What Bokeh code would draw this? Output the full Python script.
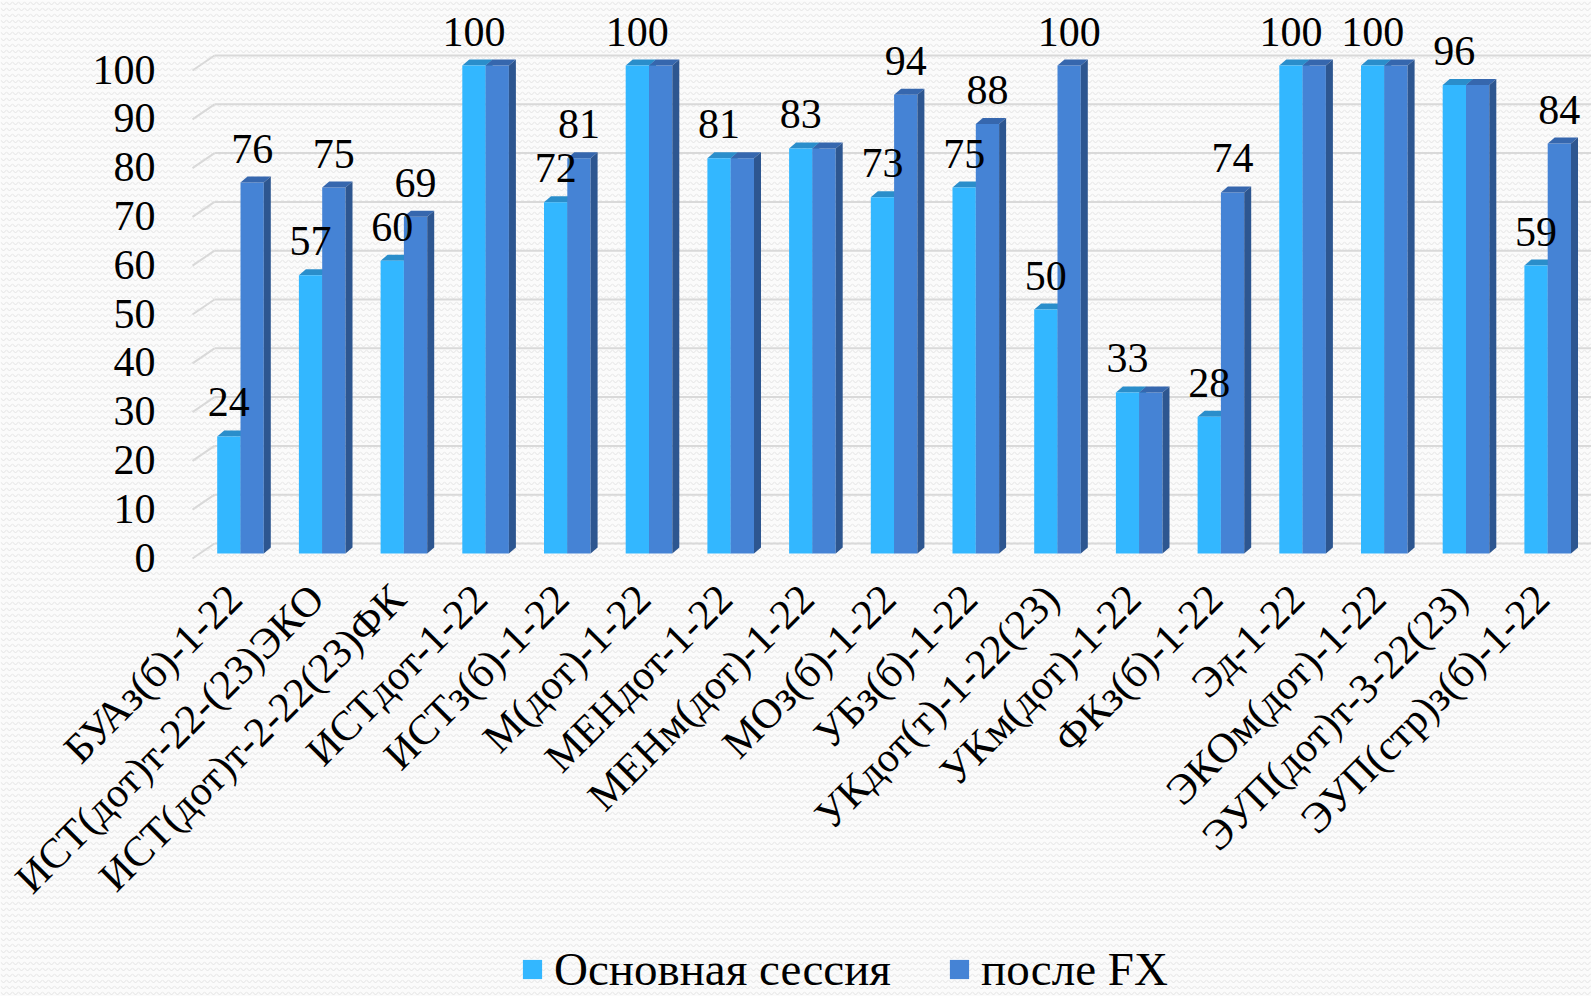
import numpy as np
from bokeh.plotting import figure
from bokeh.models import Range1d, Legend, LegendItem, BoxAnnotation
from bokeh.core.properties import value
from bokeh.embed import file_html
from bokeh.resources import INLINE

# ---------------- data ----------------
categories = [
    "БУАз(б)-1-22", "ИСТ(дот)т-22-(23)ЭКО", "ИСТ(дот)т-2-22(23)ФК", "ИСТдот-1-22",
    "ИСТз(б)-1-22", "М(дот)-1-22", "МЕНдот-1-22", "МЕНм(дот)-1-22", "МОз(б)-1-22",
    "УБз(б)-1-22", "УКдот(т)-1-22(23)", "УКм(дот)-1-22", "ФКз(б)-1-22", "Эд-1-22",
    "ЭКОм(дот)-1-22", "ЭУП(дот)т-3-22(23)", "ЭУП(стр)з(б)-1-22",
]
main_session = [24, 57, 60, 100, 72, 100, 81, 83, 73, 75, 50, 33, 28, 100, 100, 96, 59]
after_fx = [76, 75, 69, 100, 81, 100, 81, 83, 94, 88, 100, 33, 74, 100, 100, 96, 84]
series_names = ["Основная сессия", "после FX"]
y_ticks = [0, 10, 20, 30, 40, 50, 60, 70, 80, 90, 100]

# ---------------- layout (pixels) ----------------
W, H = 1591, 996
X0 = 240.0      # canvas px of first group centre
GROUP = 81.7    # px per category
Y0 = 553.0      # canvas px of value 0 (front plane)
UNIT = 4.88     # px per value unit
BAR_PX, DX_PX, DY_PX = 23.3, 7.0, 6.0
GRID_BACK_DY = 10.0
STUB_X0, STUB_X1 = -48.0, -26.0   # relative to first group centre
STUB_Y0 = 5.0

x_start, x_end = (0 - X0) / GROUP, (W - X0) / GROUP
y_end, y_start = Y0 / UNIT, (Y0 - H) / UNIT
bw, dx, dy = BAR_PX / GROUP, DX_PX / GROUP, DY_PX / UNIT

FONT = value("Liberation Serif")
LIGHT, LIGHT_TOP, LIGHT_SIDE = "#33B7FF", "#2A8ECB", "#2A8ECB"
DARK, DARK_TOP, DARK_SIDE = "#4583D5", "#3667AE", "#2D5690"

p = figure(width=W, height=H, x_range=Range1d(x_start, x_end), y_range=Range1d(y_start, y_end),
           x_axis_location=None, y_axis_location=None, toolbar_location=None,
           output_backend="svg", min_border=0, outline_line_color=None,
           background_fill_color="#FBFBFB", border_fill_color="white")
p.grid.visible = False

# faint textured background
p.add_layout(BoxAnnotation(left=x_start, right=x_end, bottom=y_start, top=y_end, level="underlay",
                           fill_color="#FBFBFB", fill_alpha=1, line_alpha=0,
                           hatch_pattern="horizontal_wave", hatch_color="#E2E2E2",
                           hatch_scale=6, hatch_weight=1))

# gridlines (back wall) with floor stubs
tk = np.array(y_ticks, dtype=float)
gx0 = np.full_like(tk, STUB_X1 / GROUP)
gx1 = np.full_like(tk, x_end)
gy = tk + GRID_BACK_DY / UNIT
p.segment(x0=gx0, y0=gy, x1=gx1, y1=gy, line_color="#D9D9D9", line_width=2)
p.segment(x0=np.full_like(tk, STUB_X0 / GROUP), y0=tk - STUB_Y0 / UNIT,
          x1=gx0, y1=gy, line_color="#D9D9D9", line_width=2)

# y tick labels
p.text(x=np.zeros_like(tk), y=tk, text=[str(t) for t in y_ticks], x_offset=-85, y_offset=4,
       text_align="right", text_baseline="middle", text_font=FONT, text_font_size="42px",
       text_color="black")

idx = np.arange(len(categories), dtype=float)
m = np.array(main_session, dtype=float)
a = np.array(after_fx, dtype=float)

def faces(left, vals):
    top_xs = [[l, l + bw, l + bw + dx, l + dx] for l in left]
    top_ys = [[v, v, v + dy, v + dy] for v in vals]
    side_xs = [[l + bw, l + bw, l + bw + dx, l + bw + dx] for l in left]
    side_ys = [[0, v, v + dy, dy] for v in vals]
    return top_xs, top_ys, side_xs, side_ys

lt_x, lt_y, ls_x, ls_y = faces(idx - bw, m)
dt_x, dt_y, ds_x, ds_y = faces(idx, a)

p.patches(lt_x, lt_y, fill_color=LIGHT_TOP, line_color=None)
p.patches(ls_x, ls_y, fill_color=LIGHT_SIDE, line_color=None)
r_light = p.quad(left=idx - bw, right=idx, bottom=0, top=m, fill_color=LIGHT, line_color=None)
r_dark = p.quad(left=idx, right=idx + bw, bottom=0, top=a, fill_color=DARK, line_color=None)
p.patches(dt_x, dt_y, fill_color=DARK_TOP, line_color=None)
p.patches(ds_x, ds_y, fill_color=DARK_SIDE, line_color=None)

# data labels
p.text(x=idx - bw / 2, y=m, text=[str(v) for v in main_session], y_offset=-34,
       text_align="center", text_baseline="middle", text_font=FONT, text_font_size="42px",
       text_color="black")
p.text(x=idx + bw / 2, y=a, text=[str(v) if v != u else "" for v, u in zip(after_fx, main_session)],
       y_offset=-34, text_align="center", text_baseline="middle", text_font=FONT,
       text_font_size="42px", text_color="black")

# category labels (rotated)
p.text(x=idx, y=np.zeros_like(idx), text=categories, angle=np.pi / 4, x_offset=-22, y_offset=22,
       text_align="right", text_baseline="top", text_font=FONT, text_font_size="42px",
       text_color="black")

legend = Legend(items=[LegendItem(label=series_names[0], renderers=[r_light]),
                       LegendItem(label=series_names[1], renderers=[r_dark])],
                orientation="horizontal", location=(520, 0),
                label_text_font="Liberation Serif", label_text_font_size="47px",
                label_text_color="black", label_text_line_height=0.7, label_height=24,
                glyph_width=24, glyph_height=24, label_standoff=10, spacing=56,
                padding=0, margin=0, border_line_color=None, background_fill_alpha=0)
p.add_layout(legend)

open("out.html", "w").write(file_html(p, INLINE))
